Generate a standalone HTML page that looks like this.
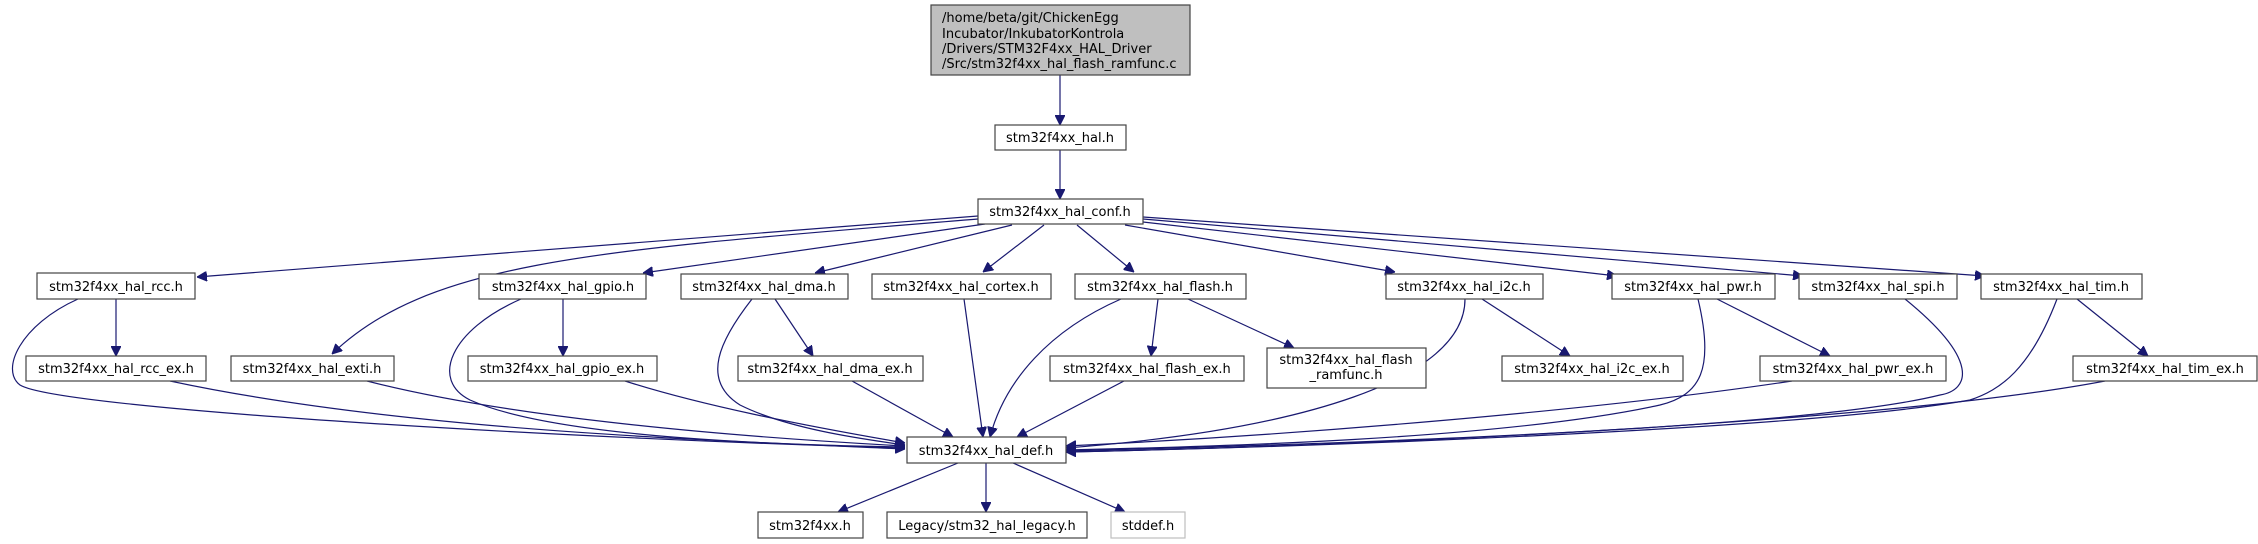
<!DOCTYPE html>
<html><head><meta charset="utf-8"><style>
html,body{margin:0;padding:0;background:#fff;}
svg{display:block;}
text{font-family:"DejaVu Sans","Liberation Sans",sans-serif;font-size:13px;fill:#000;}
</style></head><body>
<svg width="2258" height="544" viewBox="0 0 2258 544" xmlns="http://www.w3.org/2000/svg">
<defs>
<marker id="a" viewBox="0 0 10 10" refX="10" refY="5" markerWidth="10" markerHeight="10" markerUnits="userSpaceOnUse" orient="auto">
<path d="M0,0 L10,5 L0,10 z" fill="#191970" stroke="#191970"/>
</marker>
</defs>
<g fill="none" stroke="#191970" stroke-width="1.2" marker-end="url(#a)">
<path d="M1060,75 L1060,125"/>
<path d="M1060,150 L1060,199"/>
<path d="M978,216 L197,277"/>
<path d="M978,219 C600,250 430,260 332,354"/>
<path d="M985,224 L643,273"/>
<path d="M1012,225 L815,273"/>
<path d="M1044,225 L983,272"/>
<path d="M1077,225 L1134,272"/>
<path d="M1125,225 L1395,272"/>
<path d="M1143,222 L1617,276"/>
<path d="M1143,219 L1803,276"/>
<path d="M1143,217 L1985,276"/>
<path d="M116,299 L116,356"/>
<path d="M78,299 C20,325 0,370 20,385 C60,410 600,440 905,448"/>
<path d="M563,299 L563,356"/>
<path d="M521,299 C450,330 430,380 470,400 C560,440 800,445 905,447"/>
<path d="M775,299 L813,356"/>
<path d="M752,299 C720,340 700,380 740,405 C790,430 870,440 905,445"/>
<path d="M964,299 L983,437"/>
<path d="M1121,299 C1050,330 1005,380 990,437"/>
<path d="M1158,299 L1151,356"/>
<path d="M1188,299 L1294,348"/>
<path d="M1465,299 C1465,380 1300,430 1066,448"/>
<path d="M1482,299 L1570,356"/>
<path d="M1698,299 C1715,370 1700,395 1660,405 C1500,440 1200,447 1066,450"/>
<path d="M1717,299 L1830,356"/>
<path d="M1905,299 C1980,360 1970,390 1940,395 C1800,430 1300,445 1066,451"/>
<path d="M2057,299 C2030,370 2000,390 1970,400 C1800,430 1300,447 1066,452"/>
<path d="M2077,299 L2148,356"/>
<path d="M170,381 C400,430 700,440 905,449"/>
<path d="M367,381 C500,415 700,435 905,446"/>
<path d="M625,381 C700,405 800,425 905,443"/>
<path d="M852,381 L953,437"/>
<path d="M1124,381 L1017,437"/>
<path d="M1792,381 C1600,410 1300,435 1066,446"/>
<path d="M2105,381 C1900,420 1400,445 1066,452"/>
<path d="M958,463 L838,512"/>
<path d="M986,463 L986,512"/>
<path d="M1013,463 L1125,512"/>
</g>
<g stroke="#444" stroke-width="1.2" fill="#fff">
<rect x="931" y="5" width="259" height="70" fill="#bfbfbf"/>
<rect x="995" y="125" width="131" height="25"/>
<rect x="978" y="199" width="165" height="25"/>
<rect x="37" y="273" width="158" height="26"/>
<rect x="479" y="274" width="167" height="25"/>
<rect x="681" y="274" width="167" height="25"/>
<rect x="872" y="274" width="179" height="25"/>
<rect x="1075" y="274" width="171" height="25"/>
<rect x="1386" y="274" width="157" height="25"/>
<rect x="1612" y="274" width="163" height="25"/>
<rect x="1799" y="274" width="158" height="25"/>
<rect x="1981" y="274" width="161" height="25"/>
<rect x="26" y="356" width="180" height="25"/>
<rect x="231" y="356" width="163" height="25"/>
<rect x="468" y="356" width="189" height="25"/>
<rect x="738" y="356" width="185" height="25"/>
<rect x="1050" y="356" width="194" height="25"/>
<rect x="1267" y="348" width="159" height="40"/>
<rect x="1502" y="356" width="181" height="25"/>
<rect x="1760" y="356" width="186" height="25"/>
<rect x="2073" y="356" width="184" height="25"/>
<rect x="907" y="437" width="159" height="26"/>
<rect x="758" y="512" width="105" height="26"/>
<rect x="887" y="512" width="200" height="26"/>
<rect x="1111" y="512" width="74" height="26" stroke="#bfbfbf"/>
</g>
<g>
<text x="942" y="22">/home/beta/git/ChickenEgg</text>
<text x="942" y="38">Incubator/InkubatorKontrola</text>
<text x="942" y="53">/Drivers/STM32F4xx_HAL_Driver</text>
<text x="942" y="68">/Src/stm32f4xx_hal_flash_ramfunc.c</text>
</g>
<g text-anchor="middle">
<text x="1060" y="142">stm32f4xx_hal.h</text>
<text x="1060" y="216">stm32f4xx_hal_conf.h</text>
<text x="116" y="291">stm32f4xx_hal_rcc.h</text>
<text x="563" y="291">stm32f4xx_hal_gpio.h</text>
<text x="764" y="291">stm32f4xx_hal_dma.h</text>
<text x="961" y="291">stm32f4xx_hal_cortex.h</text>
<text x="1160" y="291">stm32f4xx_hal_flash.h</text>
<text x="1464" y="291">stm32f4xx_hal_i2c.h</text>
<text x="1693" y="291">stm32f4xx_hal_pwr.h</text>
<text x="1878" y="291">stm32f4xx_hal_spi.h</text>
<text x="2061" y="291">stm32f4xx_hal_tim.h</text>
<text x="116" y="373">stm32f4xx_hal_rcc_ex.h</text>
<text x="312" y="373">stm32f4xx_hal_exti.h</text>
<text x="562" y="373">stm32f4xx_hal_gpio_ex.h</text>
<text x="830" y="373">stm32f4xx_hal_dma_ex.h</text>
<text x="1147" y="373">stm32f4xx_hal_flash_ex.h</text>
<text x="1346" y="364">stm32f4xx_hal_flash</text>
<text x="1346" y="379">_ramfunc.h</text>
<text x="1592" y="373">stm32f4xx_hal_i2c_ex.h</text>
<text x="1853" y="373">stm32f4xx_hal_pwr_ex.h</text>
<text x="2165" y="373">stm32f4xx_hal_tim_ex.h</text>
<text x="986" y="455">stm32f4xx_hal_def.h</text>
<text x="810" y="530">stm32f4xx.h</text>
<text x="987" y="530">Legacy/stm32_hal_legacy.h</text>
<text x="1148" y="530">stddef.h</text>
</g>
</svg>
</body></html>
